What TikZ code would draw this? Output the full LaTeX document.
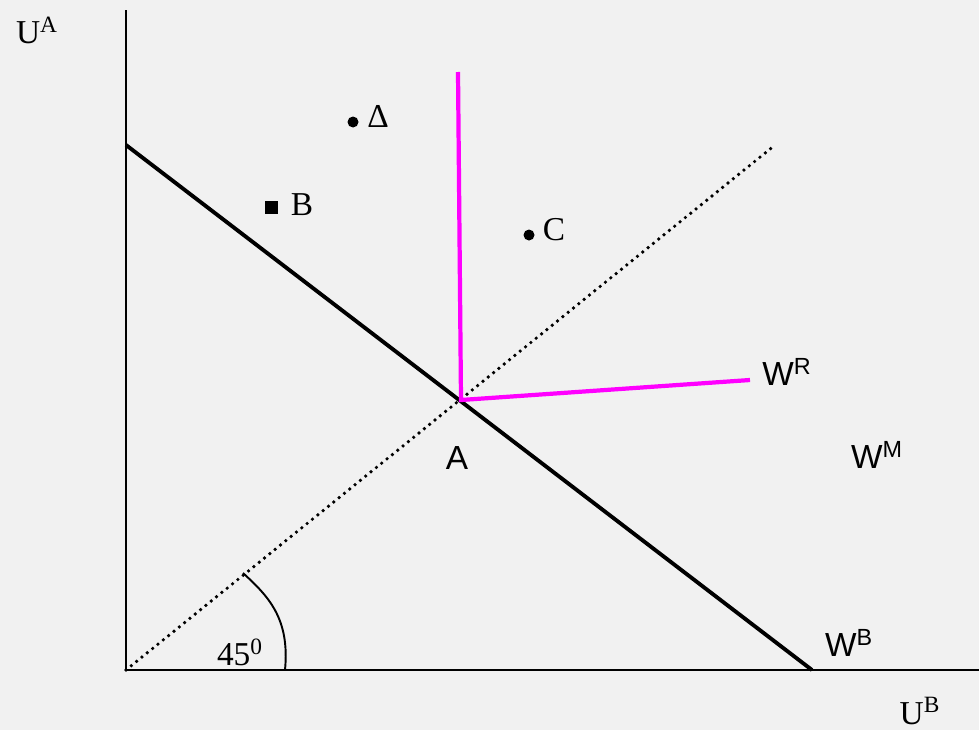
\documentclass[tikz,border=0pt]{standalone}
\usepackage{fontspec}
\setmainfont{Liberation Serif}
\newfontfamily\arialfont{Liberation Sans}
\usetikzlibrary{calc}
\definecolor{paper}{RGB}{241,241,241}
\definecolor{pinkline}{RGB}{255,0,255}
\tikzset{
  axisline/.style={line width=1.2pt,black},
  budgetline/.style={line width=2.2pt,black},
  rawlsline/.style={line width=2.4pt,pinkline},
  diagline/.style={line width=2.1pt,dash pattern=on 0pt off 3.9pt,line cap=round},
  lbl/.style={font=\fontsize{19}{22}\selectfont,inner sep=0pt},
  sanslbl/.style={font=\arialfont\fontsize{19}{22}\selectfont,inner sep=0pt}
}

\begin{document}
\begin{tikzpicture}[x=0.02cm,y=-0.02cm]
  \fill[paper] (0,0) rectangle (979,730);
  \useasboundingbox (0,0) rectangle (979,730);

  \coordinate (O) at (126,670);
  \coordinate (Ytop) at (126,10);
  \coordinate (Xend) at (979,670);
  \coordinate (Bstart) at (126,145);
  \coordinate (Bend) at (812,670);
  \coordinate (Dend) at (775,145);
  \coordinate (A) at (461,400);
  \coordinate (Rtop) at (458,72);
  \coordinate (Rend) at (750,380);
  \coordinate (arcA) at (243,573);
  \coordinate (arcB) at (285,670);

  \draw[axisline] (Ytop) -- (O) -- (Xend);
  \draw[diagline] (O) -- (Dend);
  \draw[budgetline] (Bstart) -- (Bend);
  \draw[rawlsline,line join=miter] (Rtop) -- (A) -- (Rend);
  \draw[line width=1.1pt] (arcA) .. controls (268,596) and (290,618) .. (arcB);

  \fill (353,122) circle (5.5) coordinate (delta);
  \fill (264.5,200.5) rectangle (277.5,213.5);
  \coordinate (bpt) at (271,207);
  \fill (529,235) circle (5.5) coordinate (cpt);

  \node[lbl] (ua) at (37,30) {U\textsuperscript{A}};
  \node[lbl] (ub) at (920,711) {U\textsuperscript{B}};
  \node[lbl] (dl) at (378,116) {Δ};
  \node[lbl] (bl) at (302,205) {B};
  \node[lbl] (cl) at (554,230) {C};
  \node[lbl] (ang) at (240,652) {45\textsuperscript{0}};
  \node[sanslbl] (al) at (457,458) {A};
  \node[sanslbl] (wr) at (787,372) {W\textsuperscript{R}};
  \node[sanslbl] (wm) at (877,455) {W\textsuperscript{M}};
  \node[sanslbl] (wb) at (849,643) {W\textsuperscript{B}};
\end{tikzpicture}
\end{document}
